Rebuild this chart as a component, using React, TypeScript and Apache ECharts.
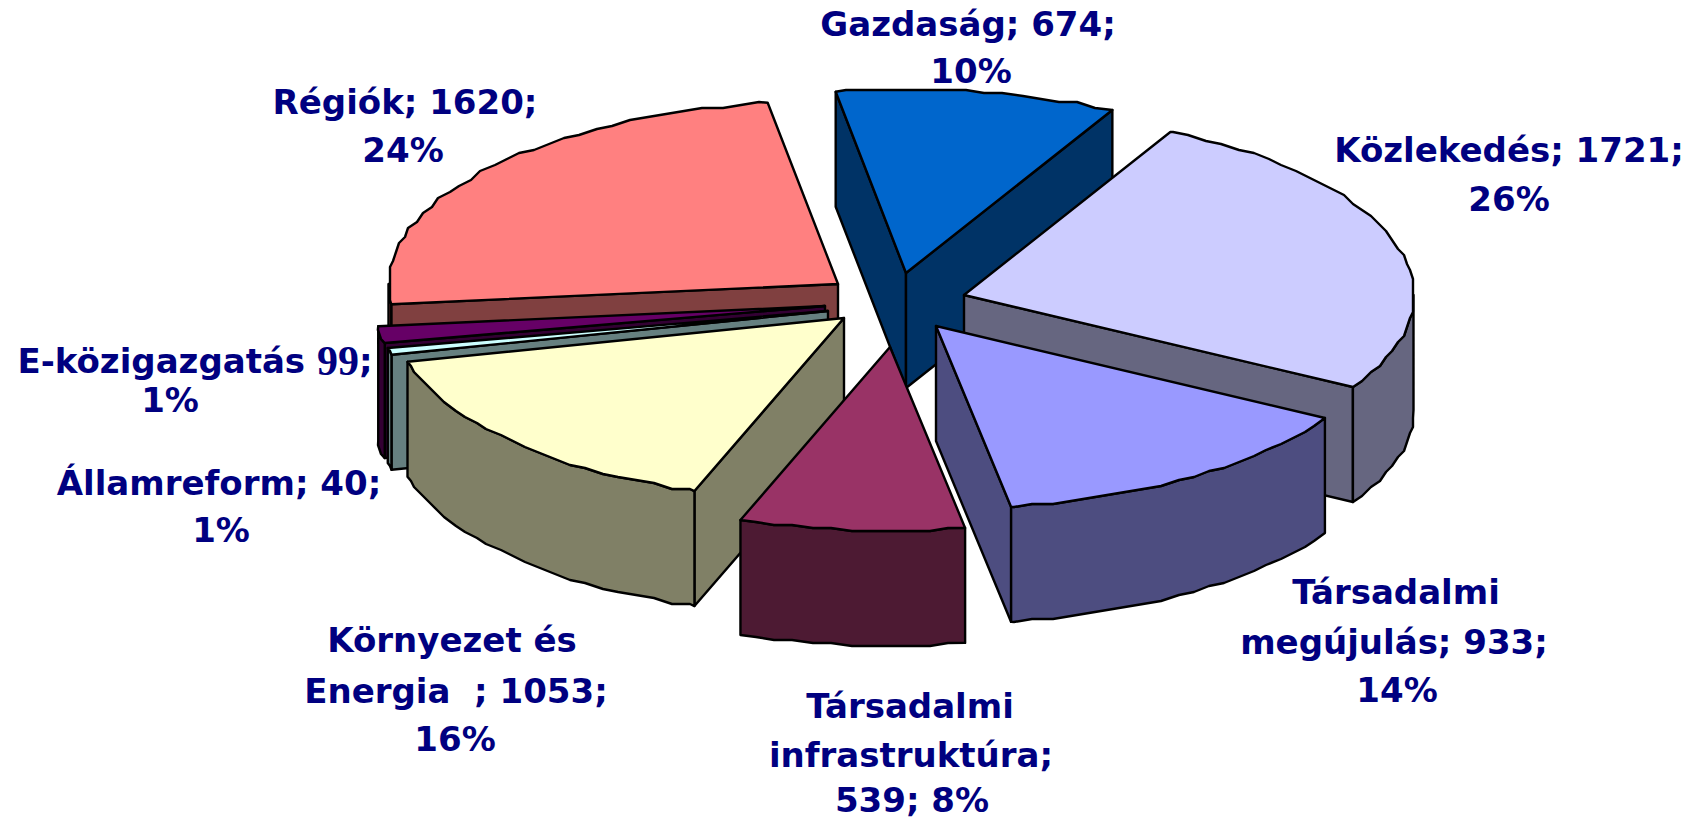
import React, { useEffect, useRef } from "react";
import * as echarts from "echarts";

// Data, in the chart's clockwise order
const categories = ["Gazdaság", "Közlekedés", "Társadalmi megújulás", "Társadalmi infrastruktúra", "Környezet és Energia", "Államreform", "E-közigazgatás", "Régiók"];
const values = [674, 1721, 933, 539, 1053, 40, 99, 1620];
const labelLines = [
  ["Gazdaság; 674;", "10%"],
  ["Közlekedés; 1721;", "26%"],
  ["Társadalmi", "megújulás; 933;", "14%"],
  ["Társadalmi", "infrastruktúra;", "539; 8%"],
  ["Környezet és", "Energia  ; 1053;", "16%"],
  ["Államreform; 40;", "1%"],
  ["E-közigazgatás {s|99};", "1%"],
  ["Régiók; 1620;", "24%"],
];

// Styles and layout
const topColors = ["#0066CC", "#CCCCFF", "#9999FF", "#993366", "#FFFFCC", "#CCFFFF", "#660066", "#FF8080"];
const wallColors = ["#003366", "#666680", "#4D4D80", "#4D1A33", "#808066", "#668080", "#330033", "#804040"];
const apexes = [[906, 273], [964, 295], [936, 326], [890, 347], [844, 318], [828, 311], [825, 306], [838, 284]];
const labelAnchors = [
  [[968, 24], [971, 71]],
  [[1509, 150], [1509, 199]],
  [[1396, 592], [1394, 642], [1397, 690]],
  [[910, 706], [911, 755], [912, 800]],
  [[452, 640], [456, 691], [455, 739]],
  [[219, 483], [221, 530]],
  [[195, 361], [170, 400]],
  [[405, 102], [403, 150]],
];
const drawOrder = [0, 7, 1, 6, 5, 4, 2, 3];
const START_ANGLE = -9;
const RX = 449.5;
const RY = 183.5;
const DEPTH = 115;
const ARC_STEP = 2.5;
const SNAP = 3;

const total = values.reduce((a, b) => a + b, 0);
const rad = (d: number) => (d * Math.PI) / 180;
const slices = values.map((_, i) => {
  const before = values.slice(0, i).reduce((a, b) => a + b, 0);
  return { a0: START_ANGLE + (before / total) * 360, a1: START_ANGLE + ((before + values[i]) / total) * 360 };
});
const snap = (v: number) => Math.round(v / SNAP) * SNAP;

function rim(cx: number, cy: number, a: number): number[] {
  return [cx + RX * Math.sin(rad(a)), cy - RY * Math.cos(rad(a))];
}
function arc(cx: number, cy: number, a0: number, a1: number): number[][] {
  const pts: number[][] = [rim(cx, cy, a0)];
  for (let a = Math.ceil(a0 / ARC_STEP) * ARC_STEP; a < a1; a += ARC_STEP) {
    if (a > a0) {
      const p = rim(cx, cy, a);
      pts.push([snap(p[0]), snap(p[1])]);
    }
  }
  pts.push(rim(cx, cy, a1));
  return pts;
}

function renderSlice(_params: any, api: any) {
  const i = api.value(0) as number;
  const { a0, a1 } = slices[i];
  const [cx, cy] = apexes[i];
  const face = (points: number[][], fill: string) => ({
    type: "polygon",
    shape: { points },
    style: { fill, stroke: "#000", lineWidth: 2.4, lineJoin: "round" },
  });
  const wall = wallColors[i];
  const children: any[] = [];
  const radial = (a: number) => {
    const p = rim(cx, cy, a);
    return [[cx, cy], p, [p[0], p[1] + DEPTH], [cx, cy + DEPTH]];
  };
  if (Math.sin(rad(a0)) < 0) children.push(face(radial(a0), wall));
  if (Math.sin(rad(a1)) > 0) children.push(face(radial(a1), wall));
  const lo = Math.max(a0, 90);
  const hi = Math.min(a1, 270);
  if (hi > lo) {
    const edge = arc(cx, cy, lo, hi);
    const lower = edge.map(([x, y]) => [x, y + DEPTH]).reverse();
    children.push(face([...edge, ...lower], wall));
  }
  children.push(face([[cx, cy], ...arc(cx, cy, a0, a1)], topColors[i]));
  return { type: "group", children };
}

const labelGraphics = labelLines.flatMap((lines, i) =>
  lines.map((text, j) => ({
    type: "text",
    x: labelAnchors[i][j][0],
    y: labelAnchors[i][j][1],
    z: 100,
    style: {
      text,
      align: "center",
      verticalAlign: "middle",
      fill: "#000080",
      font: "bold 34px 'DejaVu Sans'",
      rich: { s: { font: "bold 42px 'Liberation Serif'", fill: "#000080" } },
    },
  }))
);

export default function App() {
  const ref = useRef<HTMLDivElement>(null);
  useEffect(() => {
    document.body.style.margin = "0";
    const chart = echarts.init(ref.current!, undefined, { renderer: "svg" });
    chart.setOption({
      animation: false,
      backgroundColor: "#fff",
      graphic: labelGraphics,
      series: [
        {
          type: "custom",
          coordinateSystem: "none",
          clip: false,
          renderItem: renderSlice,
          data: drawOrder.map((i) => ({ name: categories[i], value: [i, values[i]] })),
        },
      ],
    });
    return () => chart.dispose();
  }, []);
  return <div ref={ref} style={{ width: 1702, height: 821 }} />;
}
